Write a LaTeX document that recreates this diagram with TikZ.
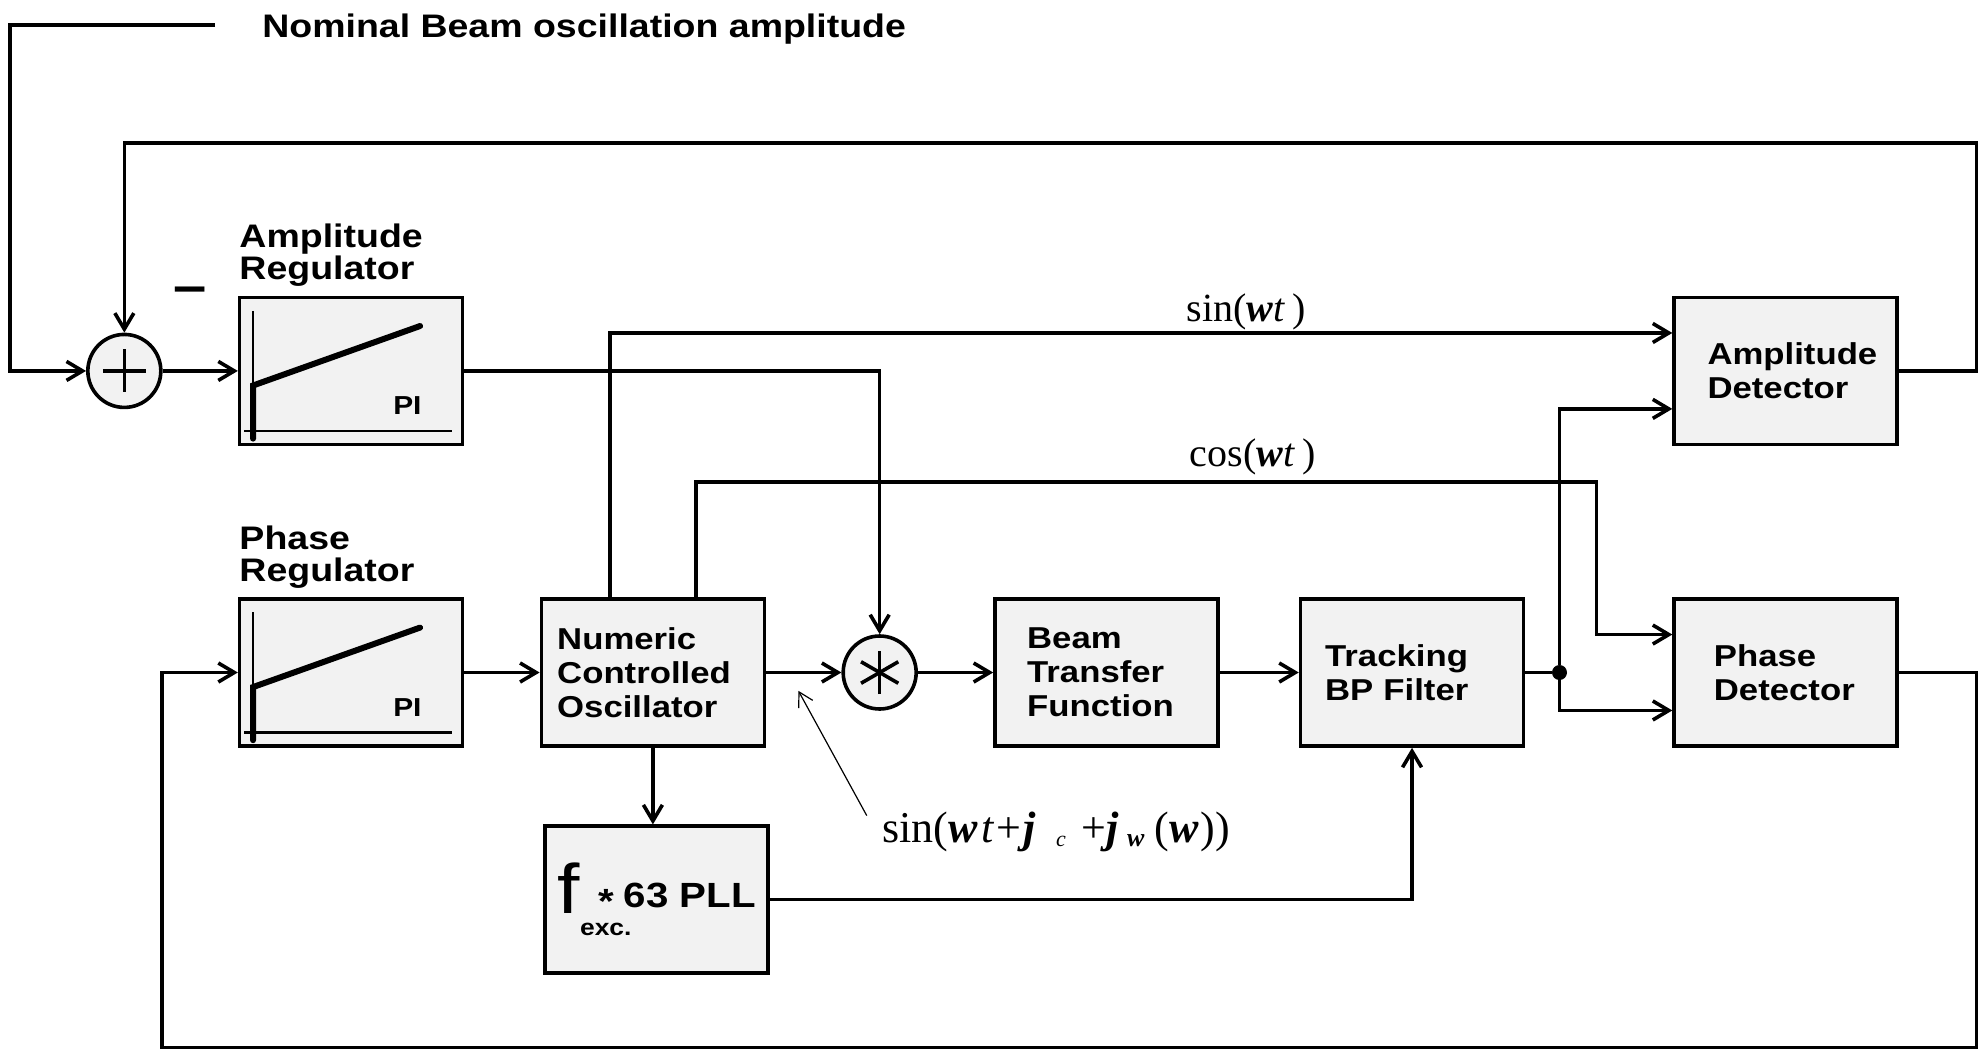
\documentclass[tikz,border=0pt]{standalone}
\usepackage{fontspec}
\newfontfamily\blockfont[FakeStretch=1.15]{Liberation Sans}
\newfontfamily\serfont{Liberation Serif}
\usetikzlibrary{positioning, arrows.meta, calc}
\definecolor{BoxFill}{HTML}{F2F2F2}
\tikzset{
  block/.style={draw, line width=1.8pt, fill=BoxFill, minimum width=111.5pt, minimum height=73.5pt, align=left, inner ysep=0pt, font=\blockfont\bfseries\fontsize{15.1}{17}\selectfont},
  pad/.style 2 args={inner xsep=#1, text width=#2},
  junc/.style={draw, circle, line width=1.8pt, fill=BoxFill, minimum size=36.5pt, inner sep=0pt},
  title/.style={anchor=south west, inner sep=0pt, align=left, font=\blockfont\bfseries\fontsize{16.3}{15.8}\selectfont},
  sig/.style={inner sep=0pt, font=\serfont\fontsize{20}{20}\selectfont},
  wire/.style={line width=1.8pt},
  arr/.style={-{Straight Barb[length=8pt,width=9.5pt]}, line width=1.8pt},
  thinarr/.style={-{Straight Barb[length=7pt,width=8pt]}, line width=0.6pt}
}

\begin{document}
\begin{tikzpicture}[x=0.6327pt, y=-0.6327pt, node distance=37.6pt]
  \useasboundingbox (0,0) rectangle (1568,830);

  % blocks
  \node[block] (preg) at (277.5,531.5) {};
  \node[block, above=75.5pt of preg] (areg) {};
  \node[block, pad={7.9pt}{95.7pt}, right=of preg] (nco) {Numeric\\Controlled\\Oscillator};
  \node[junc, right=of nco] (mult) {};
  \node[block, pad={16.1pt}{79.3pt}, right=of mult] (btf) {Beam\\Transfer\\Function};
  \node[block, pad={12.3pt}{86.9pt}, right=39.5pt of btf] (tbp) {Tracking\\BP Filter};
  \node[block, pad={19.9pt}{71.7pt}, right=73.5pt of tbp] (pdet) {Phase\\Detector};
  \node[block, pad={16.7pt}{78.1pt}, above=75.5pt of pdet] (adet) {Amplitude\\Detector};
  \node[block, below=38.3pt of nco, xshift=1.9pt, font=\blockfont\bfseries\fontsize{17.5}{18}\selectfont] (pll)
    {\raisebox{-3pt}{\mdseries\fontsize{35}{35}\selectfont f}\rlap{\raisebox{-14pt}{\fontsize{11.5}{12}\selectfont exc.}}\hspace{9pt}\raisebox{-3pt}{*}\hspace{5pt}63 PLL};
  \node[junc, left=of areg] (sum) {};
  \node[circle, fill, inner sep=0pt, minimum size=7.5pt] (split) at ($(tbp.east)+(27,0)$) {};

  \node[title] (atitle) at ($(areg.north west)+(1,-7)$) {Amplitude\\Regulator};
  \node[title] (ptitle) at ($(preg.north west)+(1,-7)$) {Phase\\Regulator};
  \node[anchor=base west, inner sep=0pt, font=\blockfont\bfseries\fontsize{16.3}{17}\selectfont] (nomlbl) at (207,30) {Nominal Beam oscillation amplitude};
  \node[inner sep=0pt, font=\blockfont\bfseries\fontsize{26}{26}\selectfont] (minus) at (150,233) {–};

  % PI characteristic
  \foreach \r in {areg, preg} {
    \draw[line width=1.3pt] ($(\r.center)+(-84.5,47.5)$) -- ($(\r.center)+(79.5,47.5)$);
    \draw[line width=1.3pt] ($(\r.center)+(-77.5,-47.5)$) -- ($(\r.center)+(-77.5,53.5)$);
    \draw[line width=3pt, line cap=round] ($(\r.center)+(-77.5,53.5)$) -- ($(\r.center)+(-77.5,11.5)$) -- ($(\r.center)+(54.5,-35.5)$);
    \node[inner sep=0pt, font=\blockfont\bfseries\fontsize{13}{13}\selectfont] (\r-pi) at ($(\r.center)+(44.5,27.5)$) {PI};
  }

  % junction symbols
  \draw[wire] ($(sum.center)+(-17,0)$) -- ($(sum.center)+(17,0)$) ($(sum.center)+(0,-17)$) -- ($(sum.center)+(0,17)$);
  \foreach \a in {90,30,150}
    \draw[wire] ($(mult.center)+(\a:17)$) -- ($(mult.center)+(\a+180:17)$);

  \coordinate (nomin) at (170,20);
  \coordinate (topR) at (1562,113);
  \coordinate (botR) at (1562,828);
  \coordinate (botL) at (128,828);
  \coordinate (ann) at (631,546);

  % signal labels
  \node[sig, anchor=south] (sinwt) at (985,261) {sin(\textbf{\textit{w}}\textit{t}\,)};
  \node[sig, anchor=south] (coswt) at (990,376) {cos(\textbf{\textit{w}}\textit{t}\,)};
  \node[sig, anchor=base west, font=\serfont\fontsize{22}{22}\selectfont] (sinlbl) at (697,666)
    {sin(\textbf{\textit{w}}\hspace{2pt}\textit{t}\hspace{1pt}+\hspace{1pt}\textbf{\textit{j}}\hspace{10pt}\raisebox{-2pt}{\fontsize{11}{11}\selectfont\textit{c}}\hspace{8pt}+\textbf{\textit{j}}\hspace{4pt}\raisebox{-2pt}{\fontsize{13}{13}\selectfont\textbf{\textit{w}}}\hspace{5pt}(\textbf{\textit{w}}\hspace{1pt}))};

  % connections
  \draw[arr] (nomin) -- ++(-162,0) |- (sum.west);
  \draw[arr] (sum) -- (areg);
  \draw[arr] (areg.east) -| (mult.north);
  \draw[arr] (adet.east) -| (topR) -| (sum.north);
  \draw[arr] (preg) -- (nco);
  \draw[arr] (nco) -- (mult);
  \draw[arr] (mult) -- (btf);
  \draw[arr] (btf) -- (tbp);
  \draw[wire] (tbp) -- (split);
  \draw[arr] (split) |- ($(adet.west)+(0,30)$);
  \draw[arr] (split) |- ($(pdet.west)+(0,30)$);
  \draw[arr] ($(nco.north)+(-34,0)$) |- ($(adet.west)+(0,-30)$);
  \draw[arr] ($(nco.north)+(34,0)$) -- ++(0,-91) -| ($(pdet.west)+(-60,-30)$) -- ($(pdet.west)+(0,-30)$);
  \draw[arr] (nco.south) -- (nco.south |- pll.north);
  \draw[arr] (pll.east) -| (tbp.south);
  \draw[arr] (pdet.east) -| (botR) -- (botL) |- (preg.west);
  \draw[thinarr] ($(sinlbl.north west)+(-12,3)$) -- (ann);
\end{tikzpicture}
\end{document}
